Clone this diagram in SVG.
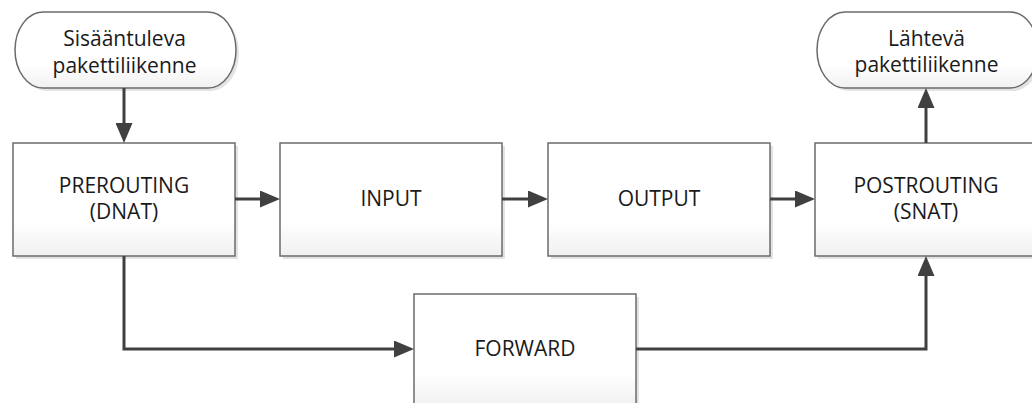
<svg xmlns="http://www.w3.org/2000/svg" width="1032" height="403" viewBox="0 0 1032 403">
<style>
.shadow{fill:#e3e3e3;stroke:none}
.box{fill:url(#g);stroke:#6b6b6b;stroke-width:1.5}
.t{font-family:"Open Sans","Liberation Sans",sans-serif;font-size:21px;fill:#1a1a1a;text-anchor:middle}
.c{fill:none;stroke:#404040;stroke-width:3}
</style>
<defs>
<linearGradient id="g" x1="0" y1="0" x2="0" y2="1">
<stop offset="0" stop-color="#ffffff"/>
<stop offset="0.7" stop-color="#ffffff"/>
<stop offset="1" stop-color="#f0f0f0"/>
</linearGradient>
<marker id="a" viewBox="0 0 20 17" markerWidth="20" markerHeight="17" refX="10" refY="8.5" orient="auto" markerUnits="userSpaceOnUse">
<path d="M0,0 L20,8.5 L0,17 z" fill="#404040"/>
</marker>
</defs>
<g id="start">
<path class="shadow" d="M46,15 H211 A28,38 0 0 1 211,91 H46 A28,38 0 0 1 46,15 z"/>
<path class="box" d="M43,12 H208 A28,38 0 0 1 208,88 H43 A28,38 0 0 1 43,12 z"/>
<text class="t" x="124.5" y="46">Sisääntuleva</text>
<text class="t" x="124.5" y="73">pakettiliikenne</text>
</g>
<g id="end">
<path class="shadow" d="M848,15 H1013 A28,38 0 0 1 1013,91 H848 A28,38 0 0 1 848,15 z"/>
<path class="box" d="M845,12 H1010 A28,38 0 0 1 1010,88 H845 A28,38 0 0 1 845,12 z"/>
<text class="t" x="926.5" y="46">Lähtevä</text>
<text class="t" x="926.5" y="72">pakettiliikenne</text>
</g>
<g id="prerouting">
<rect class="shadow" x="16" y="146" width="222" height="113"/>
<rect class="box" x="13" y="143" width="222" height="113"/>
<text class="t" x="124" y="193">PREROUTING</text>
<text class="t" x="124" y="219">(DNAT)</text>
</g>
<g id="input">
<rect class="shadow" x="283" y="146" width="222" height="113"/>
<rect class="box" x="280" y="143" width="222" height="113"/>
<text class="t" x="391" y="206">INPUT</text>
</g>
<g id="output">
<rect class="shadow" x="551" y="146" width="222" height="113"/>
<rect class="box" x="548" y="143" width="222" height="113"/>
<text class="t" x="659" y="206">OUTPUT</text>
</g>
<g id="postrouting">
<rect class="shadow" x="818" y="146" width="222" height="113"/>
<rect class="box" x="815" y="143" width="222" height="113"/>
<text class="t" x="926" y="193">POSTROUTING</text>
<text class="t" x="926" y="219">(SNAT)</text>
</g>
<g id="forward">
<rect class="shadow" x="417" y="297" width="222" height="113"/>
<rect class="box" x="414" y="294" width="222" height="113"/>
<text class="t" x="525" y="356">FORWARD</text>
</g>
<g id="connectors">
<path class="c" d="M124,88 V133" marker-end="url(#a)"/>
<path class="c" d="M235,199 H270" marker-end="url(#a)"/>
<path class="c" d="M502,199 H538" marker-end="url(#a)"/>
<path class="c" d="M770,199 H805" marker-end="url(#a)"/>
<path class="c" d="M926,143 V98" marker-end="url(#a)"/>
<path class="c" d="M124,256 V349 H404" marker-end="url(#a)"/>
<path class="c" d="M636,349 H926 V266" marker-end="url(#a)"/>
</g>
</svg>
